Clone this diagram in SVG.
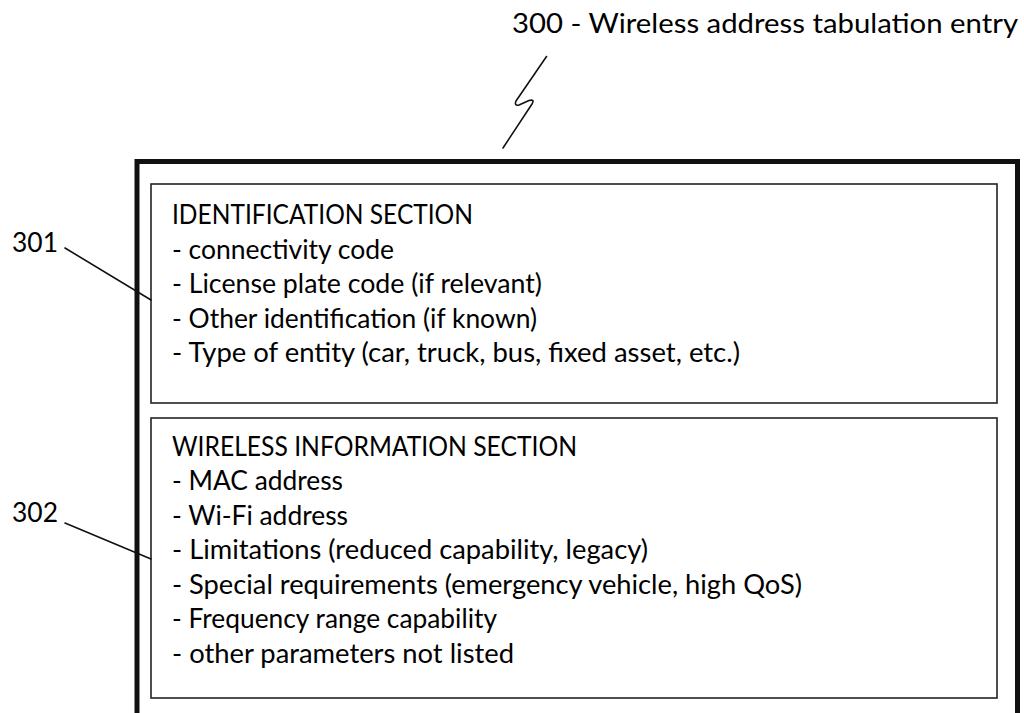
<svg xmlns="http://www.w3.org/2000/svg" width="1024" height="713" viewBox="0 0 1024 713">
<style>
text{font-family:Lato,"Liberation Sans",sans-serif;font-size:26px;fill:#000}
.box{fill:none;stroke:#222;stroke-width:1.6}
.lead{fill:none;stroke:#111;stroke-width:1.6;stroke-linecap:round;stroke-linejoin:round}
</style>
<rect width="1024" height="713" fill="#fff"/>
<g id="entry300">
<path d="M137,713 V161.5 H1017.5 V713" fill="none" stroke="#111" stroke-width="5"/>
<text x="512" y="33" textLength="506" lengthAdjust="spacingAndGlyphs">300 - Wireless address tabulation entry</text>
</g>
<g id="section301">
<rect class="box" x="151" y="184" width="846" height="219"/>
<text x="172" y="224" textLength="301" lengthAdjust="spacingAndGlyphs">IDENTIFICATION SECTION</text>
<text x="172" y="258.5" textLength="222" lengthAdjust="spacingAndGlyphs">- connectivity code</text>
<text x="172" y="293" textLength="370" lengthAdjust="spacingAndGlyphs">- License plate code (if relevant)</text>
<text x="172" y="327.5" textLength="365" lengthAdjust="spacingAndGlyphs">- Other identification (if known)</text>
<text x="172" y="362" textLength="568" lengthAdjust="spacingAndGlyphs">- Type of entity (car, truck, bus, fixed asset, etc.)</text>
<text x="12" y="252" textLength="46" lengthAdjust="spacingAndGlyphs">301</text>
</g>
<g id="section302">
<rect class="box" x="151" y="418" width="846" height="280"/>
<text x="172" y="455.5" textLength="405" lengthAdjust="spacingAndGlyphs">WIRELESS INFORMATION SECTION</text>
<text x="172" y="490" textLength="171" lengthAdjust="spacingAndGlyphs">- MAC address</text>
<text x="172" y="524.5" textLength="176" lengthAdjust="spacingAndGlyphs">- Wi-Fi address</text>
<text x="172" y="559" textLength="476" lengthAdjust="spacingAndGlyphs">- Limitations (reduced capability, legacy)</text>
<text x="172" y="593.5" textLength="630" lengthAdjust="spacingAndGlyphs">- Special requirements (emergency vehicle, high QoS)</text>
<text x="172" y="628" textLength="325" lengthAdjust="spacingAndGlyphs">- Frequency range capability</text>
<text x="172" y="662.5" textLength="342" lengthAdjust="spacingAndGlyphs">- other parameters not listed</text>
<text x="12" y="522" textLength="46" lengthAdjust="spacingAndGlyphs">302</text>
</g>
<g id="connectors">
<path class="lead" d="M546.5,56.5 L516,101 Q514,106 519,105 L529,100.5 Q535,99 532,104 L503,148"/>
<path class="lead" d="M65,248 L151,300"/>
<path class="lead" d="M65,523 L151,559"/>
</g>
</svg>
